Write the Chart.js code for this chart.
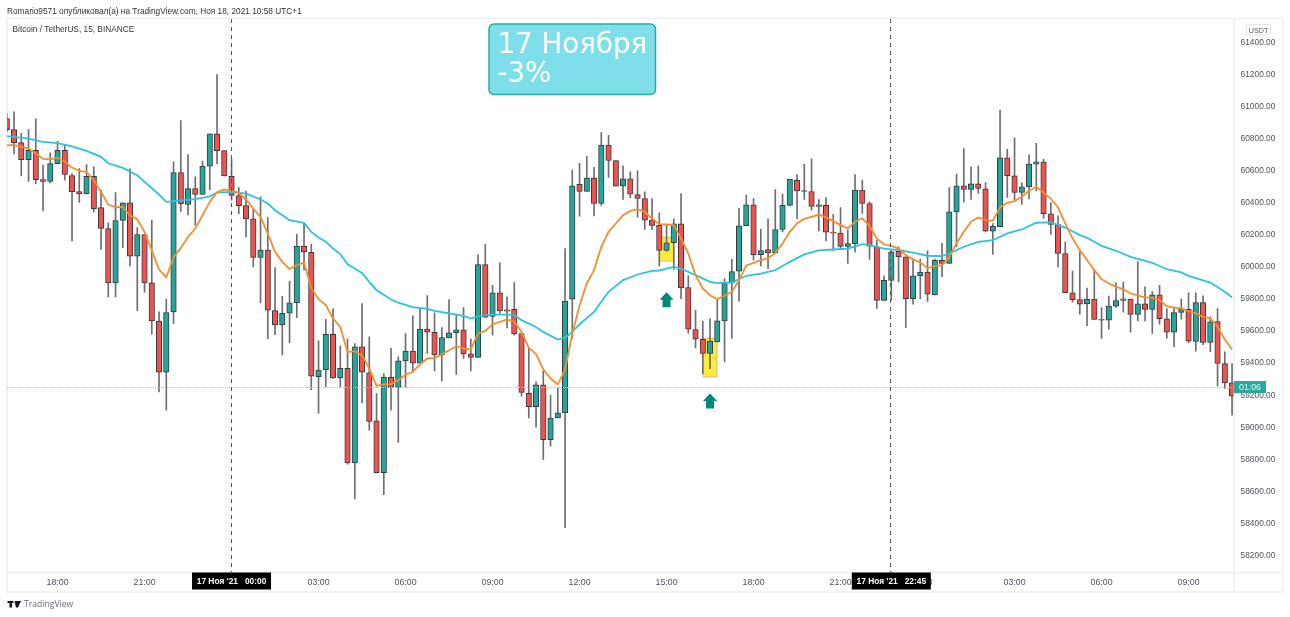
<!DOCTYPE html>
<html>
<head>
<meta charset="utf-8">
<title>BTCUSDT 15</title>
<script src="https://cdn.jsdelivr.net/npm/chart.js@4"></script>
<style>
    html, body { margin: 0; padding: 0; background: #fff; }
    canvas { display: block; }
</style>
</head>
<body>
<canvas id="candles" width="1290" height="617"></canvas>
<script>
// OHLC of the 15 minute candles, first candle is 16:15 the day before
const opens = [
    60926,60857,60776,60670,60728,60545,60533,60645,60728,60570,
    60470,60456,60566,60371,60240,59901,60290,60400,60067,60202,
    59901,59663,59343,59720,60589,60391,60489,60452,60629,60830,
    60726,60566,60446,60383,60300,60059,60106,59728,59638,59711,
    59778,60131,60092,59316,59358,59579,59308,59368,58778,59502,
    59339,59040,58717,59312,59248,59414,59475,59400,59612,59593,
    59452,59558,59589,59608,59458,59435,60015,59691,59839,59732,
    59735,59585,59212,59129,59264,58923,59058,59090,59799,60515,
    60471,60554,60396,60760,60664,60506,60550,60452,60427,60292,
    60259,60103,60151,60269,59872,59610,59549,59460,59533,59664,
    59901,59974,60257,60388,60076,60109,60088,60234,60384,60540,
    60477,60471,60377,60384,60217,60211,60128,60146,60479,60396,
    60126,59791,59916,60097,60063,59803,59945,59968,59826,60041,
    60022,60344,60506,60484,60519,60488,60224,60251,60681,60569,
    60465,60500,60642,60654,60332,60265,60084,59839,59797,59770,
    59799,59674,59668,59756,59791,59799,59704,59770,59735,59826,
    59677,59593,59716,59735,59535,59778,59529,59660,59398,59277
];
const closes = [
    60857,60776,60670,60728,60545,60533,60645,60728,60577,60470,
    60456,60566,60364,60240,59901,60290,60400,60067,60202,59901,
    59663,59343,59715,60589,60394,60489,60452,60629,60830,60726,
    60568,60446,60383,60300,60059,60106,59730,59638,59711,59776,
    60131,60094,59319,59356,59579,59308,59368,58778,59502,59344,
    59036,58717,59312,59248,59414,59475,59400,59612,59593,59452,
    59560,59589,59608,59458,59435,60015,59687,59839,59726,59724,
    59583,59217,59129,59264,58923,59058,59090,59787,60506,60471,
    60554,60396,60760,60664,60504,60550,60454,60427,60292,60259,
    60103,60151,60269,59870,59612,59549,59460,59537,59664,59897,
    59972,60257,60388,60076,60103,60088,60234,60384,60546,60475,
    60471,60377,60388,60217,60211,60128,60146,60479,60396,60130,
    59791,59916,60095,60063,59803,59945,59968,59830,60041,60022,
    60344,60506,60484,60519,60490,60224,60253,60681,60569,60465,
    60500,60642,60656,60332,60265,60084,59839,59795,59768,59799,
    59672,59668,59756,59791,59801,59704,59770,59735,59826,59677,
    59593,59716,59737,59537,59778,59529,59658,59398,59277,59194
];
const highs = [
    60957,60968,60834,60857,60924,60635,60712,60785,60758,60583,
    60614,60639,60624,60479,60275,60464,60400,60612,60246,60202,
    60292,59720,59799,60656,60914,60701,60562,60660,60830,61200,
    60726,60676,60495,60473,60364,60437,60308,59996,59817,59911,
    60204,60271,60142,59539,59674,59739,59506,59551,59522,59772,
    59564,59210,59335,59493,59439,59585,59695,59741,59822,59714,
    59622,59797,59699,59747,59551,60078,60142,59886,60026,59814,
    59903,59585,59491,59283,59352,59200,59248,60115,60604,60646,
    60691,60621,60839,60822,60664,60629,60594,60600,60469,60427,
    60338,60261,60300,60458,59945,59730,59662,59678,59797,59928,
    60047,60365,60448,60427,60236,60300,60483,60454,60546,60577,
    60641,60675,60421,60433,60329,60371,60230,60577,60542,60407,
    60167,59945,60105,60126,60063,60051,60047,60101,60047,60147,
    60496,60579,60739,60625,60631,60527,60271,60979,60735,60806,
    60525,60700,60771,60671,60402,60319,60155,59974,60095,59868,
    59984,59747,59818,59901,59905,59799,60034,59876,59847,59885,
    59741,59741,59801,59839,59839,59820,59689,59741,59471,59398
];
const lows = [
    60843,60706,60568,60533,60520,60350,60525,60645,60541,60163,
    60402,60456,60344,60109,59813,59813,60121,60005,59728,59842,
    59580,59220,59106,59647,60346,60325,60260,60452,60483,60645,
    60568,60416,60333,60188,60000,59776,59553,59578,59451,59526,
    59684,59980,59235,59086,59252,59304,59252,58769,58553,59154,
    58982,58717,58580,59106,58905,59248,59346,59400,59460,59352,
    59289,59558,59329,59429,59352,59435,59683,59574,59710,59620,
    59574,59194,59058,59000,58799,58882,59058,58374,59554,60317,
    60471,60319,60384,60558,60504,60421,60433,60311,60234,60232,
    60007,60099,59984,59803,59585,59495,59335,59366,59533,59408,
    59554,59787,60257,60042,60007,59990,60088,60219,60384,60302,
    60421,60354,60225,60163,60105,60109,60022,60094,60334,60047,
    59741,59791,59793,59907,59622,59768,59803,59785,59826,59939,
    60022,60126,60404,60421,60459,60219,60078,60251,60434,60417,
    60390,60425,60475,60303,60205,60001,59839,59781,59706,59633,
    59672,59554,59612,59747,59718,59593,59664,59664,59585,59643,
    59556,59502,59674,59527,59475,59516,59471,59256,59242,59075
];

// fast moving average, one value per candle
const fastMa = [
    60758,60762,60750,60739,60708,60674,60672,60681,60656,60620,
    60599,60593,60541,60468,60389,60373,60375,60323,60298,60219,
    60104,59984,59936,60059,60119,60188,60240,60323,60406,60466,
    60483,60475,60462,60421,60364,60312,60208,60094,60032,59988,
    60011,60028,59866,59799,59762,59678,59626,59470,59475,59450,
    59366,59258,59267,59269,59294,59329,59346,59393,59429,59433,
    59454,59481,59506,59491,59487,59585,59601,59643,59658,59672,
    59660,59595,59497,59456,59362,59304,59267,59356,59585,59760,
    59897,59980,60126,60219,60271,60323,60350,60361,60344,60302,
    60267,60265,60261,60178,60084,59949,59866,59824,59799,59820,
    59845,59918,60009,60026,60042,60053,60088,60146,60219,60271,
    60300,60313,60327,60309,60286,60261,60240,60282,60304,60255,
    60178,60140,60132,60115,60074,60047,60028,59993,60005,60011,
    60063,60147,60219,60282,60309,60292,60288,60371,60400,60411,
    60438,60475,60500,60463,60427,60371,60271,60178,60105,60043,
    59980,59924,59897,59876,59862,59835,59822,59810,59808,59793,
    59756,59747,59741,59724,59710,59689,59679,59627,59548,59485
];

// slow moving average, read at its bends
const slowMaIndex = [
    0,3,5,7,9,11,13,14,16,18,19,21,22,24,26,28,29,31,33,35,36,37,39,41,42,
    43,44,45,46,47,48,49,50,51,52,53,54,55,56,58,59,61,63,64,65,67,69,70,71,
    73,74,76,77,78,79,81,83,85,87,89,90,91,92,93,95,97,98,100,102,104,106,
    108,110,112,114,116,118,119,121,123,125,127,129,130,132,134,136,138,140,
    142,144,146,148,149,151,153,155,158,160,162,163,166,168,169
];
const slowMaValues = [
    60816,60801,60780,60772,60753,60724,60687,60647,60618,60572,60531,60452,60406,60416,60423,60441,60464,60468,60458,60421,60396,60354,60292,60275,60219,
    60184,60157,60115,60080,60017,59990,59963,59907,59855,59826,59797,59778,59764,59749,59739,59726,59710,59695,59678,59693,59703,59703,59699,59668,
    59626,59595,59547,59558,59595,59643,59720,59845,59918,59953,59976,59978,59990,60001,59990,59949,59907,59899,59903,59945,59959,59980,
    60032,60078,60103,60109,60115,60142,60136,60115,60105,60090,60070,60068,60084,60126,60157,60167,60209,60234,
    60276,60278,60246,60199,60182,60132,60101,60063,60026,59986,59966,59945,59903,59845,59810
];

// time axis
const timeTickIndex = [7, 19, 43, 55, 67, 79, 91, 103, 115, 127, 139, 151, 163];
const timeTickLabels = ['18:00', '21:00', '03:00', '06:00', '09:00', '12:00', '15:00', '18:00', '21:00', '18', '03:00', '06:00', '09:00'];
const priceTicks = [58200, 58400, 58600, 58800, 59000, 59200, 59400, 59600, 59800, 60000, 60200, 60400, 60600, 60800, 61000, 61200, 61400];

// drawing objects on the chart
const zoneIndex = [91, 97];
const zoneTop = [60188, 59557];
const zoneBottom = [60034, 59312];
const arrowIndex = [91, 97];
const arrowPrice = [59842, 59210];
const cursorIndex = [31, 122];
const cursorLabels = ["17 Ноя '21   00:00", "17 Ноя '21   22:45"];
const lastPrice = 59251;
const countdown = '01:06';

const UP = '#26a69a';
const DOWN = '#ef5350';
const OUTLINE = '#37393d';
const AXIS_TEXT = '#50535e';
const FRAME = '#eef0f5';
const TEXT_FONT = '"Liberation Sans", sans-serif';

const wickData = highs.map((h, i) => ({ x: i, y: [lows[i], h] }));
const bodyData = opens.map((o, i) => ({ x: i, y: [o, closes[i]] }));
const bodyColors = opens.map((o, i) => (closes[i] >= o ? UP : DOWN));
const zoneData = zoneIndex.map((x, i) => ({ x: x, y: [zoneBottom[i], zoneTop[i]] }));
const fastData = fastMa.map((v, i) => ({ x: i, y: v }));
const slowData = slowMaIndex.map((x, i) => ({ x: x, y: slowMaValues[i] }));

function roundedBox(ctx, x, y, w, h, r, fill, stroke) {
    ctx.beginPath();
    ctx.roundRect(x, y, w, h, r);
    ctx.fillStyle = fill;
    ctx.fill();
    if (stroke) {
        ctx.strokeStyle = stroke;
        ctx.stroke();
    }
}

function label(ctx, text, x, y, font, color, align) {
    ctx.font = font;
    ctx.fillStyle = color;
    ctx.textAlign = align || 'left';
    ctx.textBaseline = 'alphabetic';
    ctx.fillText(text, x, y);
}

// frame around the panes, sits under the candles
const framePlugin = {
    id: 'frame',
    beforeDraw(chart) {
        const { ctx, chartArea: a } = chart;
        ctx.save();
        ctx.strokeStyle = FRAME;
        ctx.lineWidth = 1.5;
        ctx.beginPath();
        ctx.rect(7, 18.5, 1276, 573.5);
        ctx.moveTo(a.right + 0.5, 18.5);
        ctx.lineTo(a.right + 0.5, 592);
        ctx.moveTo(7, a.bottom + 0.5);
        ctx.lineTo(1283, a.bottom + 0.5);
        ctx.stroke();
        ctx.restore();
    }
};

const overlayPlugin = {
    id: 'overlay',
    afterDatasetsDraw(chart) {
        const { ctx, chartArea: a, scales: { x, y } } = chart;
        ctx.save();

        // last price line
        ctx.strokeStyle = '#8fdad2';
        ctx.lineWidth = 1;
        ctx.setLineDash([1, 1]);
        ctx.beginPath();
        ctx.moveTo(a.left, Math.round(y.getPixelForValue(lastPrice)) + 0.5);
        ctx.lineTo(a.right, Math.round(y.getPixelForValue(lastPrice)) + 0.5);
        ctx.stroke();

        // crosshair verticals
        ctx.strokeStyle = '#555';
        ctx.setLineDash([4, 4]);
        cursorIndex.forEach((i) => {
            const px = Math.round(x.getPixelForValue(i)) - 0.5;
            ctx.beginPath();
            ctx.moveTo(px, a.top);
            ctx.lineTo(px, a.bottom);
            ctx.stroke();
        });
        ctx.setLineDash([]);

        // up arrows under the zones
        ctx.fillStyle = '#00897b';
        arrowIndex.forEach((idx, i) => {
            const px = x.getPixelForValue(idx);
            const py = y.getPixelForValue(arrowPrice[i]);
            ctx.beginPath();
            ctx.moveTo(px, py);
            ctx.lineTo(px + 7, py + 7.5);
            ctx.lineTo(px + 4, py + 7.5);
            ctx.lineTo(px + 4, py + 15);
            ctx.lineTo(px - 4, py + 15);
            ctx.lineTo(px - 4, py + 7.5);
            ctx.lineTo(px - 7, py + 7.5);
            ctx.closePath();
            ctx.fill();
        });

        ctx.restore();
    },
    afterDraw(chart) {
        const { ctx, chartArea: a, scales: { x, y } } = chart;
        ctx.save();

        label(ctx, 'Romario9571 опубликовал(а) на TradingView.com, Ноя 18, 2021 10:58 UTC+1', 7, 13.5, '8.3px ' + TEXT_FONT, '#333', 'left');
        label(ctx, 'Bitcoin / TetherUS, 15, BINANCE', 12.5, 32, '8.3px ' + TEXT_FONT, '#333', 'left');

        // date note
        ctx.lineWidth = 1.5;
        roundedBox(ctx, 489, 24, 166.5, 70.5, 5, '#7edfeb', '#23aca4');
        label(ctx, '17 Ноября', 497.5, 52.5, '27.7px "DejaVu Sans", sans-serif', '#fff', 'left');
        label(ctx, '-3%', 497.5, 81.5, '27.7px "DejaVu Sans", sans-serif', '#fff', 'left');

        // currency badge
        ctx.lineWidth = 1;
        roundedBox(ctx, 1246.5, 24.5, 24, 10.5, 2, '#fff', '#e0e3eb');
        label(ctx, 'USDT', 1258.5, 32.5, '7.2px ' + TEXT_FONT, AXIS_TEXT, 'center');

        // countdown tag on the price axis
        const tagY = Math.round(y.getPixelForValue(lastPrice));
        ctx.fillStyle = '#2aa89b';
        ctx.fillRect(a.right + 0.5, tagY - 6, 32, 12);
        label(ctx, countdown, a.right + 16.5, tagY + 3, '8.8px ' + TEXT_FONT, '#e6f6f4', 'center');

        // crosshair time tags
        cursorIndex.forEach((idx, i) => {
            const px = x.getPixelForValue(idx);
            ctx.fillStyle = '#000';
            ctx.fillRect(px - 39.5, a.bottom + 0.5, 79, 17);
            label(ctx, cursorLabels[i], px, a.bottom + 12, 'bold 8.4px ' + TEXT_FONT, '#fff', 'center');
        });

        // logo and name at the foot
        ctx.fillStyle = '#131722';
        ctx.fillRect(7.5, 601, 6, 2);
        ctx.fillRect(9.5, 601, 2.5, 6.5);
        ctx.beginPath();
        ctx.moveTo(14.5, 601);
        ctx.lineTo(21, 601);
        ctx.lineTo(18, 607.5);
        ctx.lineTo(16, 607.5);
        ctx.closePath();
        ctx.fill();
        label(ctx, 'TradingView', 24, 607, '8.6px "Open Sans", sans-serif', '#6a6d78', 'left');

        ctx.restore();
    }
};

const ctx = document.getElementById('candles').getContext('2d');

new Chart(ctx, {
    type: 'bar',
    data: {
        datasets: [
            { type: 'line', data: fastData, borderColor: '#f68d2e', borderWidth: 1.8, pointRadius: 0, tension: 0, order: 1 },
            { type: 'line', data: slowData, borderColor: '#2bc4dc', borderWidth: 1.8, pointRadius: 0, tension: 0, order: 1 },
            { data: bodyData, backgroundColor: bodyColors, borderColor: OUTLINE, borderWidth: 1, borderSkipped: false, barThickness: 5.5, grouped: false, order: 2 },
            { data: wickData, backgroundColor: '#6c6e72', barThickness: 1, grouped: false, order: 3 },
            { data: zoneData, backgroundColor: '#ffeb3b', borderColor: '#f49a94', borderWidth: 1, borderSkipped: false, barThickness: 14.5, grouped: false, order: 4 }
        ]
    },
    options: {
        responsive: false,
        animation: false,
        events: [],
        layout: { padding: { left: 7, top: 19, right: 7, bottom: 25 } },
        plugins: { legend: { display: false }, tooltip: { enabled: false } },
        scales: {
            x: {
                type: 'linear',
                offset: false,
                min: 0.03,
                max: 169.2,
                grid: { display: false, drawTicks: false },
                border: { display: false },
                afterBuildTicks(scale) {
                    scale.ticks = timeTickIndex.map((v) => ({ value: v }));
                },
                afterFit(scale) {
                    scale.height = 20;
                },
                ticks: {
                    autoSkip: false,
                    maxRotation: 0,
                    padding: 5,
                    color: AXIS_TEXT,
                    font: { size: 8.8, family: TEXT_FONT },
                    callback: (value) => timeTickLabels[timeTickIndex.indexOf(value)]
                }
            },
            y: {
                position: 'right',
                min: 58097,
                max: 61547,
                grid: { display: false, drawTicks: false },
                border: { display: false },
                afterBuildTicks(scale) {
                    scale.ticks = priceTicks.map((v) => ({ value: v }));
                },
                afterFit(scale) {
                    scale.width = 49.5;
                },
                ticks: {
                    autoSkip: false,
                    padding: 7,
                    color: AXIS_TEXT,
                    font: { size: 8.4, family: TEXT_FONT },
                    callback: (value) => value.toFixed(2)
                }
            }
        }
    },
    plugins: [framePlugin, overlayPlugin]
});
</script>
</body>
</html>
